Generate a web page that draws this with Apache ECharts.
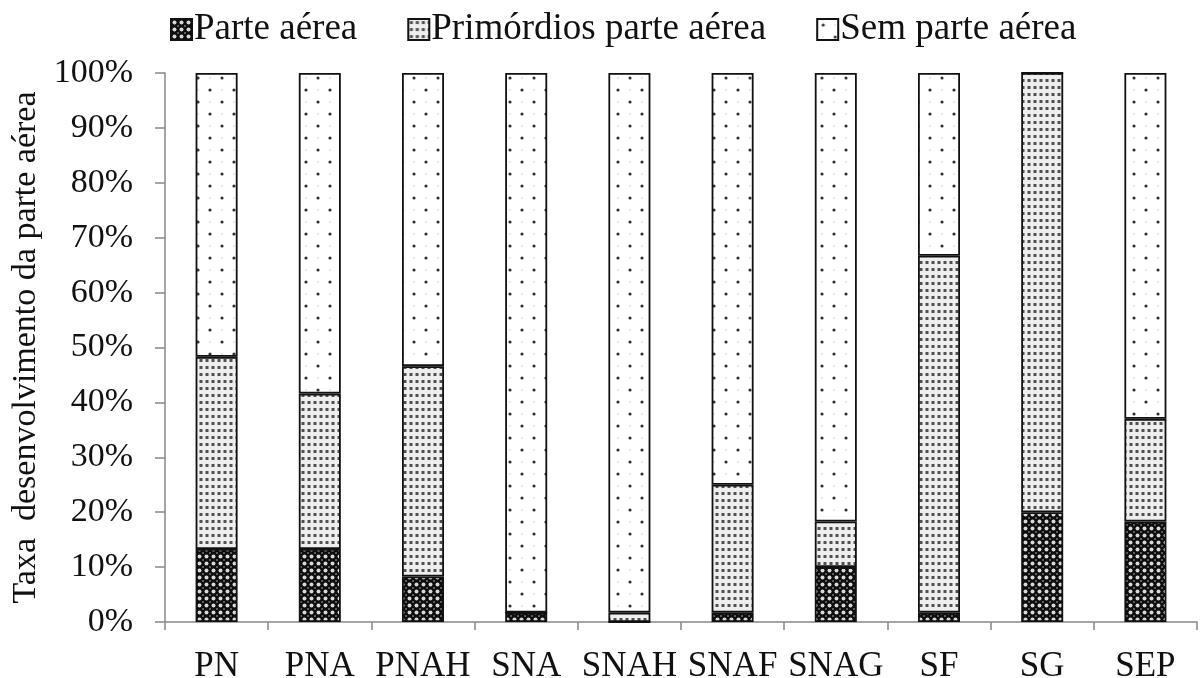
<!DOCTYPE html>
<html>
<head>
<meta charset="utf-8">
<script src="https://cdn.jsdelivr.net/npm/echarts@6/dist/echarts.min.js"></script>
<style>
html,body{margin:0;padding:0;background:#fff;}
#main{width:1203px;height:678px;}
</style>
</head>
<body>
<div id="main"></div>
<script>
var categories = ['PN','PNA','PNAH','SNA','SNAH','SNAF','SNAG','SF','SG','SEP'];
var parteAerea = [13.3, 13.3, 8.3, 1.7, 0, 1.7, 10, 1.7, 20, 18.3];
var primordios = [35, 28.3, 38.3, 0, 1.7, 23.3, 8.3, 65, 80, 18.7];
var semParte = [51.7, 58.4, 53.4, 98.3, 98.3, 75, 81.7, 33.3, 0, 63];
var seriesNames = ['Parte aérea', 'Primórdios parte aérea', 'Sem parte aérea'];
var yTicks = [0,10,20,30,40,50,60,70,80,90,100];

function makeTile(w, h, draw) {
  var c = document.createElement('canvas');
  c.width = w; c.height = h;
  var ctx = c.getContext('2d');
  draw(ctx, w, h);
  return c;
}
var tileDark = makeTile(7, 7, function (ctx, w, h) {
  ctx.fillStyle = '#0d0d0d'; ctx.fillRect(0, 0, w, h);
  ctx.fillStyle = '#d8d8d8';
  ctx.beginPath(); ctx.arc(3.5, 3.5, 2.0, 0, Math.PI * 2); ctx.fill();
  ctx.fillStyle = '#777';
  [[0,0],[7,0],[0,7],[7,7]].forEach(function (p) {
    ctx.beginPath(); ctx.arc(p[0], p[1], 1.0, 0, Math.PI * 2); ctx.fill();
  });
});
var tileMid = makeTile(6, 7, function (ctx, w, h) {
  ctx.fillStyle = '#eeeeee'; ctx.fillRect(0, 0, w, h);
  ctx.fillStyle = '#505050';
  ctx.fillRect(1.5, 2, 3, 3);
});
var tileLight = makeTile(24, 24, function (ctx, w, h) {
  ctx.fillStyle = '#ffffff'; ctx.fillRect(0, 0, w, h);
  ctx.fillStyle = '#333';
  [[6,6],[18,18]].forEach(function (p) {
    ctx.beginPath(); ctx.arc(p[0], p[1], 1.6, 0, Math.PI * 2); ctx.fill();
  });
  ctx.fillStyle = '#ccc';
  [[18,6],[6,18]].forEach(function (p) {
    ctx.beginPath(); ctx.arc(p[0], p[1], 0.8, 0, Math.PI * 2); ctx.fill();
  });
});
var patterns = [tileDark, tileMid, tileLight];
var seriesData = [parteAerea, primordios, semParte];

var font = 'Liberation Serif';
var chart = echarts.init(document.getElementById('main'), null, {renderer: 'canvas'});
var option = {
  animation: false,
  backgroundColor: '#ffffff',
  legend: {
    top: 6,
    left: 165,
    itemWidth: 21,
    itemHeight: 21,
    itemGap: 50,
    icon: 'rect',
    textStyle: {fontFamily: font, fontSize: 37, color: '#111', padding: [0,0,0,-3]},
    data: seriesNames
  },
  grid: {left: 165, right: 6, top: 73, bottom: 56, containLabel: false, outerBoundsMode: 'none'},
  xAxis: {
    type: 'category',
    data: categories,
    axisLine: {lineStyle: {color: '#888', width: 1.5}},
    axisTick: {show: true, length: 8, interval: 0, lineStyle: {color: '#888', width: 1.5}},
    axisLabel: {fontFamily: font, fontSize: 35, color: '#111', margin: 27, interval: 0, hideOverlap: false}
  },
  yAxis: {
    type: 'value',
    min: 0, max: 100, interval: 10,
    name: 'Taxa  desenvolvimento da parte aérea',
    nameLocation: 'middle',
    nameGap: 113,
    nameTextStyle: {fontFamily: font, fontSize: 34, color: '#111'},
    axisLine: {show: true, lineStyle: {color: '#888', width: 1.5}},
    axisTick: {show: true, length: 10, lineStyle: {color: '#888', width: 1.5}},
    splitLine: {show: false},
    axisLabel: {fontFamily: font, fontSize: 34, color: '#111', margin: 32,
      formatter: function (v) { return yTicks.indexOf(v) >= 0 ? v + '%' : ''; }}
  },
  series: seriesNames.map(function (n, i) {
    return {
      name: n,
      type: 'bar',
      stack: 'total',
      barWidth: 42,
      data: seriesData[i],
      itemStyle: {
        color: {image: patterns[i], repeat: 'repeat'},
        borderColor: '#111',
        borderWidth: 1.8
      },
      emphasis: {disabled: true}
    };
  })
};
chart.setOption(option);
</script>
</body>
</html>
